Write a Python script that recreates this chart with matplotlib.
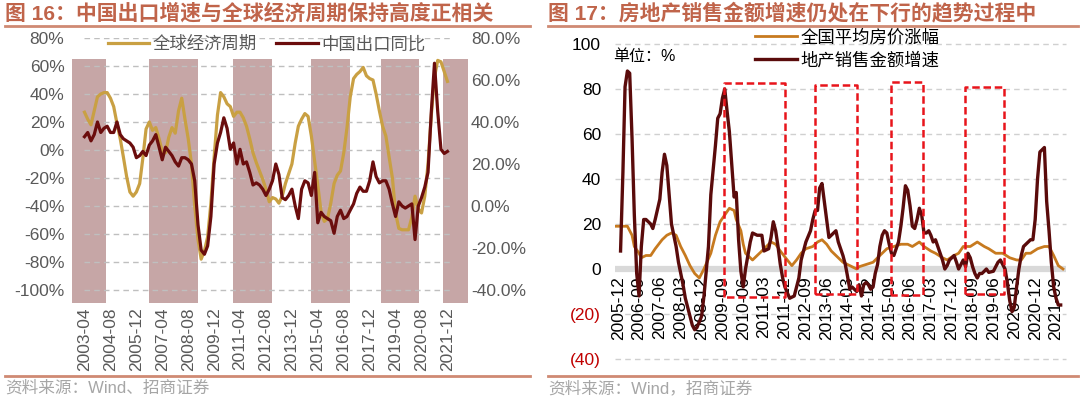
import numpy as np
import pandas as pd
import matplotlib
matplotlib.use("Agg")
import matplotlib.pyplot as plt
import matplotlib.dates as mdates
from matplotlib.lines import Line2D

plt.rcParams['font.family'] = ['Liberation Sans', 'Noto Sans CJK SC', 'DejaVu Sans']

# ---------------- data: left chart (every 2 months, 2003-04 .. 2021-12) ----------------
left_dates = pd.date_range('2003-04-01', '2021-12-01', freq='2MS')
global_cycle = [27, 22, 18, 28, 38, 40, 41, 41, 37, 31,
                19, 8, -5, -19, -30, -33, -30, -24, -6, 15,
                20, 14, 16, 8, -1, -2, 9, 16, 12, 28,
                37, 22, 8, -10, -40, -64, -78, -72, -62, -38,
                -5, 25, 41, 38, 33, 31, 24, 27, 27, 23,
                17, 8, -2, -9, -15, -21, -28, -37, -34, -35,
                -38, -33, -24, -17, -10, 5, 17, 22, 26, 24,
                10, -8, -25, -44, -51, -49, -38, -24, -18, -15,
                -2, 16, 38, 51, 54, 56, 59, 53, 51, 50,
                40, 28, 17, 10, -5, -20, -45, -56, -57, -57,
                -57, -48, -33, -42, -45, -33, -10, 25, 52, 64,
                63, 56, 49]
china_export = [33, 35, 31, 34, 40, 35, 37, 38, 35, 35,
                40, 34, 32, 31, 30, 28, 23, 24, 26, 24,
                29, 31, 34, 28, 22, 28, 26, 24, 21, 19,
                23, 23, 22, 20, 12, -9, -21, -23, -19, -5,
                20, 30, 35, 42, 37, 27, 30, 20, 27, 20,
                21, 16, 10, 11, 10, 8, 5, 8, 12, 20,
                15, 4, 3, 5, 8, 0, -6, 8, 12, 11,
                5, 16, -8, -3, -5, -6, -7, -13, -5, -2,
                -6, -5, -2, 1, 6, 9, 7, 7, 12, 21,
                14, 11, 12, 12, 8, 1, -5, 2, 0, -1,
                0, 1, -16, 0, 4, 9, 16, 45, 68, 45,
                27, 25, 26]
shade_start = ['2002-08-01', '2006-08-01', '2010-11-15', '2014-11-18', '2018-07-01', '2021-09-01']
shade_end = ['2004-05-01', '2009-02-01', '2012-11-15', '2016-11-25', '2020-06-21', '2022-12-20']
left_ticks = pd.date_range('2003-04-01', periods=15, freq='16MS')

# ---------------- data: right chart ----------------
house_dates = ['2005-11', '2006-02', '2006-04', '2006-06', '2006-07', '2006-09', '2006-10', '2006-12',
               '2007-02', '2007-04', '2007-07', '2007-09', '2007-11', '2008-01', '2008-03', '2008-05',
               '2008-07', '2008-09', '2008-11', '2009-01', '2009-04', '2009-06', '2009-08', '2009-10',
               '2009-12', '2010-02', '2010-03', '2010-05', '2010-06', '2010-07', '2010-10', '2010-12',
               '2011-02', '2011-04', '2011-06', '2011-08', '2011-10', '2012-01', '2012-03', '2012-05',
               '2012-07', '2012-09', '2012-12', '2013-02', '2013-04', '2013-06', '2013-08', '2013-10',
               '2014-01', '2014-04', '2014-07', '2014-08', '2014-11', '2015-02', '2015-05', '2015-08',
               '2015-11', '2016-02', '2016-05', '2016-07', '2016-10', '2016-12', '2017-03', '2017-05',
               '2017-08', '2017-10', '2018-01', '2018-03', '2018-05', '2018-08', '2018-11', '2019-02',
               '2019-04', '2019-07', '2019-10', '2020-01', '2020-04', '2020-06', '2020-08', '2020-10',
               '2021-01', '2021-04', '2021-06', '2021-08', '2021-10', '2021-12']
house_price = [19, 19, 19, 15, 10, 7, 5, 6,
               6, 9, 13, 15, 16, 15, 10, 6,
               1.5, -2, -4, 0, 7, 15, 21, 24,
               27, 26, 22, 17, 11, 7, 4, 6,
               8, 10, 12, 11, 8, 4, 1.5, 4,
               7, 9, 10, 12, 13, 11, 8, 6,
               3, 1.5, 0, 1, 2, 3, 6, 9,
               10, 11, 11, 10, 12, 10, 8, 7,
               5, 4, 6, 7, 10, 10, 12, 10,
               9, 7, 7, 5, 4, 4, 7, 7,
               9, 10, 10, 6, 1.5, 0]

sales_dates = ['2006-01', '2006-02', '2006-03', '2006-04', '2006-05', '2006-06', '2006-07', '2006-08',
               '2006-09', '2006-10', '2006-11', '2006-12', '2007-02', '2007-03', '2007-04', '2007-06',
               '2007-07', '2007-08', '2007-09', '2007-10', '2007-11', '2008-01', '2008-02', '2008-04',
               '2008-05', '2008-07', '2008-08', '2008-09', '2008-10', '2008-12', '2009-01', '2009-03',
               '2009-04', '2009-06', '2009-07', '2009-08', '2009-09', '2009-10', '2009-11', '2009-12',
               '2010-02', '2010-03', '2010-04', '2010-05', '2010-06', '2010-07', '2010-09', '2010-10',
               '2010-12', '2011-02', '2011-03', '2011-05', '2011-06', '2011-07', '2011-08', '2011-09',
               '2011-10', '2011-11', '2011-12', '2012-02', '2012-04', '2012-06', '2012-07', '2012-09',
               '2012-11', '2012-12', '2013-01', '2013-02', '2013-03', '2013-04', '2013-05', '2013-06',
               '2013-07', '2013-08', '2013-09', '2013-10', '2013-11', '2014-01', '2014-02', '2014-03',
               '2014-04', '2014-05', '2014-07', '2014-08', '2014-09', '2014-10', '2014-11', '2014-12',
               '2015-01', '2015-02', '2015-03', '2015-04', '2015-05', '2015-06', '2015-07', '2015-08',
               '2015-09', '2015-10', '2015-11', '2016-01', '2016-02', '2016-03', '2016-04', '2016-05',
               '2016-06', '2016-07', '2016-08', '2016-09', '2016-10', '2016-11', '2016-12', '2017-01',
               '2017-02', '2017-03', '2017-04', '2017-05', '2017-06', '2017-07', '2017-08', '2017-09',
               '2017-10', '2017-11', '2018-01', '2018-02', '2018-03', '2018-04', '2018-05', '2018-06',
               '2018-07', '2018-08', '2018-09', '2018-10', '2018-11', '2018-12', '2019-01', '2019-02',
               '2019-03', '2019-04', '2019-06', '2019-07', '2019-08', '2019-09', '2019-10', '2019-11',
               '2019-12', '2020-01', '2020-02', '2020-03', '2020-04', '2020-05', '2020-06', '2020-07',
               '2020-09', '2020-10', '2020-11', '2020-12', '2021-01', '2021-02', '2021-04', '2021-05',
               '2021-06', '2021-07', '2021-08', '2021-09', '2021-10', '2021-11']
sales_growth = [8, 43, 81, 88, 87, 58, 24, -2,
                -12, 10, 22, 22, 20, 18, 22, 31,
                43, 51, 46, 33, 20, 10, 3, -7,
                -13, -21, -25, -27, -26, -21, -12, 10,
                33, 55, 67, 69, 76, 80, 70, 61,
                32, 34, 13, -1, -8, 0, 12, 16,
                15, 15, 8, 9, 14, 21, 17, 10,
                2, -4, -8, -13, -12, -4, 4, 12,
                17, 22, 26, 26, 36, 38, 30, 22,
                14, 15, 16, 17, 12, 6, 2, -3,
                -9, -8, -10, -7, -12, -7, -6, -7,
                -9, -8, -2, 2, 10, 15, 17, 16,
                11, 7, 6, 12, 19, 27, 37, 35,
                28, 19, 18, 22, 27, 24, 16, 16,
                17, 15, 12, 13, 10, 7, 4, 0,
                1.5, 4, 6, 3, 0, 2, 4, 1,
                7, 5, 1, -2, -4, -2, -2, -1,
                0, -1.5, -1, 1, 3, 4, 2, 0,
                -6, -14, -19, -17, -8, 0, 6, 10,
                12, 13, 13, 22, 40, 52, 54, 30,
                17, 3, -8, -13, -16, -16]

box_start = ['2009-09-18', '2012-12-28', '2015-09-18', '2018-05-28']
box_end = ['2011-12-01', '2014-07-06', '2016-11-12', '2019-10-15']
box_top = [82.5, 82, 83, 81]
box_bottom = [-12.5, -11, -11.5, -11]
right_ticks = pd.date_range('2005-12-01', periods=22, freq='9MS')

# ---------------- figure ----------------
W, H = 1080, 397
fig = plt.figure(figsize=(W / 100, H / 100), dpi=100)


def fx(px):
    return px / W


def fy(py):
    return 1 - py / H


title_c = '#c0644a'
rule_c = '#cf8a73'
tick_c = '#595959'
gold_l = '#c9a043'
red_l = '#6b0d0d'

# headers / footers
for x0, x1, title, src in [(5, 530, '图 16：中国出口增速与全球经济周期保持高度正相关', '资料来源：Wind、招商证券'),
                           (548, 1078, '图 17：房地产销售金额增速仍处在下行的趋势过程中', '资料来源：Wind，招商证券')]:
    fig.text(fx(x0), fy(13), title, fontsize=15, weight='bold', color=title_c, va='center')
    fig.add_artist(Line2D([fx(x0), fx(x1)], [fy(26), fy(26)], color=rule_c, lw=2))
    fig.add_artist(Line2D([fx(x0), fx(x1)], [fy(376), fy(376)], color=rule_c, lw=2))
    fig.text(fx(x0), fy(388), src, fontsize=12, color='#a6a6a6', va='center')

# ---------------- left chart ----------------
ax1 = fig.add_axes([fx(70), fy(303), (468 - 70) / W, (303 - 38) / H])
ax2 = ax1.twinx()
ax1.set_xlim(pd.Timestamp('2002-07-03'), pd.Timestamp('2022-12-22'))
lo1, hi1 = -109.3, 80
ax1.set_ylim(lo1, hi1)
ax2.set_ylim(-46.2, 80)

for s, e in zip(shade_start, shade_end):
    s_num = mdates.date2num(pd.Timestamp(s))
    e_num = mdates.date2num(pd.Timestamp(e))
    ax1.bar(s_num, 65 - lo1, width=e_num - s_num, bottom=lo1, align='edge',
            color='#c6a6a6', zorder=0.5)

yt1 = list(range(-100, 81, 20))
ax1.hlines(yt1, pd.Timestamp('2003-04-01'), pd.Timestamp('2022-03-20'),
           colors='#bfbfbf', linestyles=(0, (4, 3)), lw=1, zorder=1)

l1, = ax1.plot(left_dates, global_cycle, color=gold_l, lw=2.3, zorder=3, label='全球经济周期')
l2, = ax2.plot(left_dates, china_export, color=red_l, lw=2.3, zorder=3, label='中国出口同比')

ax1.set_yticks(yt1)
ax1.set_yticklabels([f'{v}%' for v in yt1])
yt2 = list(range(-40, 81, 20))
ax2.set_yticks(yt2)
ax2.set_yticklabels([f'{v:.1f}%' for v in yt2])
ax1.set_xticks(left_ticks)
ax1.set_xticklabels([d.strftime('%Y-%m') for d in left_ticks], rotation=90)
ax1.tick_params(axis='x', length=0, pad=3, labelsize=12.5, colors=tick_c)
ax1.tick_params(axis='y', length=0, pad=4, labelsize=12.5, colors=tick_c)
ax2.tick_params(axis='y', length=0, pad=2, labelsize=12.5, colors=tick_c)
for a in (ax1, ax2):
    for sp in a.spines.values():
        sp.set_visible(False)

ax2.legend([l1, l2], ['全球经济周期', '中国出口同比'], ncol=2, loc='center',
           bbox_to_anchor=(0.494, 0.977), frameon=False, fontsize=12.5,
           handlelength=2.4, handletextpad=0.2, columnspacing=1.1, labelcolor=tick_c)

# ---------------- right chart ----------------
ax3 = fig.add_axes([fx(615), fy(359), (1066 - 615) / W, (359 - 44) / H])
# x axis crosses at zero, set before the ticks (set_position resets them)
ax3.spines['bottom'].set_position(('data', 0))
for sp in ax3.spines.values():
    sp.set_color('none')
ax3.set_xlim(pd.Timestamp('2005-10-20'), pd.Timestamp('2022-01-10'))
ax3.set_ylim(-40, 100)
yt3 = list(range(-40, 101, 20))
ax3.hlines([v for v in yt3 if v != 0], pd.Timestamp('2005-10-20'), pd.Timestamp('2022-01-10'),
           colors='#d0d0d0', linestyles=(0, (4, 3)), lw=1, zorder=1, clip_on=False)
ax3.axhline(0, color='#d9d9d9', lw=4.5, zorder=1)

g_line, = ax3.plot(pd.to_datetime(house_dates), house_price, color='#c77a1f', lw=2.0, zorder=3)
r_line, = ax3.plot(pd.to_datetime(sales_dates), sales_growth, color='#5a0b0b', lw=2.4, zorder=4)

for s, e, t, b in zip(box_start, box_end, box_top, box_bottom):
    s, e = pd.Timestamp(s), pd.Timestamp(e)
    ax3.plot([s, s, e, e, s], [b, t, t, b, b], color='#e8141b', lw=1.8,
             ls=(0, (3, 1.5)), zorder=5)

ax3.set_yticks(yt3)
ax3.set_yticklabels([str(v) if v >= 0 else f'({-v})' for v in yt3])
for v, lab in zip(yt3, ax3.get_yticklabels()):
    lab.set_color('#c00000' if v < 0 else 'black')
ax3.set_xticks(right_ticks)
ax3.set_xticklabels([d.strftime('%Y-%m') for d in right_ticks], rotation=90)
ax3.tick_params(axis='x', length=0, pad=5, labelsize=12.5, labelcolor='black')
ax3.tick_params(axis='y', length=0, pad=10, labelsize=12.5)

ax3.legend([g_line, r_line], ['全国平均房价涨幅', '地产销售金额增速'], loc='upper left',
           bbox_to_anchor=(fx(755), fy(29)), bbox_transform=fig.transFigure,
           frameon=False, fontsize=12.5, handlelength=2.4, handletextpad=0.2,
           labelspacing=0.35, borderpad=0, borderaxespad=0)
fig.text(fx(613), fy(56), '单位：%', fontsize=11.5, va='center', color='black')

fig.savefig('out.png', dpi=100)
